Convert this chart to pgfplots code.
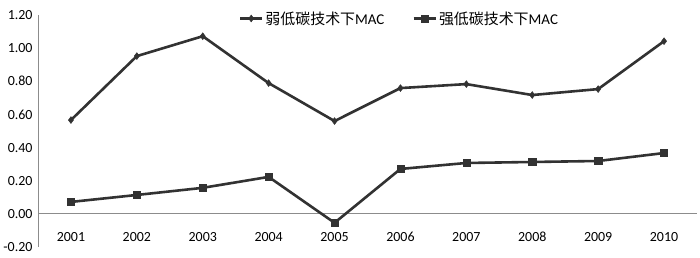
\documentclass[border=0pt]{standalone}
\usepackage{pgfplots}
\pgfplotsset{compat=1.18}
\usepackage{fontspec}
\setmainfont{Carlito}
\newfontfamily\cjk{Noto Sans CJK SC}
\definecolor{ln}{RGB}{50,50,50}
\definecolor{ax}{RGB}{140,140,140}
\begin{document}
\begin{tikzpicture}[x=1bp,y=1bp]
\begin{axis}[
  at={(38bp,11bp)}, anchor=south west,
  scale only axis, width=659bp, height=232bp,
  xmin=0.5, xmax=10.5, ymin=-0.2, ymax=1.2,
  xtick={1,...,10},
  xticklabels={2001,2002,2003,2004,2005,2006,2007,2008,2009,2010},
  ytick={-0.2,0,0.2,0.4,0.6,0.8,1.0,1.2},
  major tick length=0pt,
  axis lines*=left,
  x axis line style={draw=none},
  y axis line style={ax, line width=1bp},
  font=\fontsize{14}{16}\selectfont,
  xticklabel style={anchor=center, yshift=10bp},
  yticklabel style={xshift=-2bp},
  /pgf/number format/.cd, fixed, fixed zerofill, precision=2, assume math mode=true,
  /pgfplots/.cd,
  legend style={draw=none, fill=none, at={(rel axis cs:0.3,0.985)}, anchor=west,
    font=\fontsize{15}{17}\selectfont, /tikz/every even column/.append style={column sep=26bp}},
  legend columns=2,
  legend image code/.code={\draw[#1] (0bp,0bp) -- (11bp,0bp) -- (22bp,0bp); \path[#1] plot coordinates {(11bp,0bp)};},
]
\draw[ax, line width=1.2bp] (axis cs:0.5,0) -- (axis cs:10.5,0);
\addplot[color=ln, line width=2.6bp, mark=diamond*, mark size=3.4bp, mark options={solid, fill=ln, line width=0.5bp}] coordinates {
(1,0.566) (2,0.952) (3,1.072) (4,0.789) (5,0.560) (6,0.759) (7,0.783) (8,0.717) (9,0.753) (10,1.042)};
\addlegendentry{{\cjk 弱低碳技术下}MAC}
\addplot[color=ln, line width=2.6bp, mark=square*, mark size=3.6bp, mark options={solid, fill=ln, line width=0.5bp}] coordinates {
(1,0.072) (2,0.114) (3,0.157) (4,0.223) (5,-0.054) (6,0.271) (7,0.307) (8,0.313) (9,0.319) (10,0.367)};
\addlegendentry{{\cjk 强低碳技术下}MAC}
\end{axis}
\pgfresetboundingbox
\path[use as bounding box] (0,0) rectangle (700bp,258bp);
\end{tikzpicture}
\end{document}
